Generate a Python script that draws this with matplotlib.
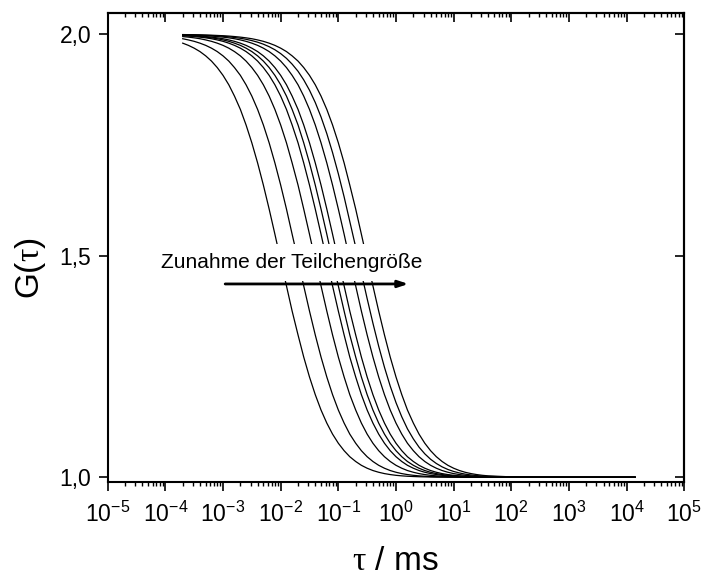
import numpy as np
import matplotlib
matplotlib.use("Agg")
import matplotlib.pyplot as plt

plt.rcParams['font.family'] = 'Liberation Sans'
plt.rcParams['mathtext.fontset'] = 'custom'
plt.rcParams['mathtext.rm'] = 'Liberation Serif'
plt.rcParams['mathtext.it'] = 'Liberation Serif:italic'

# lag times (ms)
tau = [2.00e-4, 2.51e-4, 3.16e-4, 3.98e-4, 5.01e-4, 6.31e-4, 7.94e-4,
       1.00e-3, 1.26e-3, 1.58e-3, 2.00e-3, 2.51e-3, 3.16e-3, 3.98e-3, 5.01e-3, 6.31e-3, 7.94e-3,
       1.00e-2, 1.26e-2, 1.58e-2, 2.00e-2, 2.51e-2, 3.16e-2, 3.98e-2, 5.01e-2, 6.31e-2, 7.94e-2,
       0.100, 0.126, 0.158, 0.200, 0.251, 0.316, 0.398, 0.501, 0.631, 0.794,
       1.00, 1.26, 1.58, 2.00, 2.51, 3.16, 3.98, 5.01, 6.31, 7.94,
       10.0, 12.6, 15.8, 20.0, 25.1, 31.6, 39.8,
       100.0, 316.0, 1000.0, 14000.0]

# G(tau) for each curve, smallest particles first
g1 = [1.9800, 1.9750, 1.9687, 1.9610, 1.9513, 1.9395, 1.9249, 1.9073, 1.8860, 1.8605,
      1.8304, 1.7953, 1.7550, 1.7096, 1.6596, 1.6055, 1.5487, 1.4903, 1.4320, 1.3752,
      1.3213, 1.2714, 1.2264, 1.1865, 1.1518, 1.1223, 1.0974, 1.0768, 1.0600, 1.0464,
      1.0356, 1.0270, 1.0204, 1.0152, 1.0113, 1.0083, 1.0061, 1.0044, 1.0032, 1.0023,
      1.0017, 1.0012, 1.0009, 1.0006, 1.0004, 1.0003, 1.0002, 1.0002, 1.0001, 1.0001,
      1.0001, 1.0000, 1.0000, 1.0000, 1.0000, 1.0000, 1.0000, 1.0000]
g2 = [1.9900, 1.9873, 1.9841, 1.9800, 1.9750, 1.9687, 1.9610, 1.9513, 1.9395, 1.9249,
      1.9073, 1.8860, 1.8605, 1.8304, 1.7953, 1.7550, 1.7096, 1.6596, 1.6055, 1.5487,
      1.4903, 1.4320, 1.3752, 1.3213, 1.2714, 1.2264, 1.1865, 1.1518, 1.1223, 1.0974,
      1.0768, 1.0600, 1.0464, 1.0356, 1.0270, 1.0204, 1.0152, 1.0113, 1.0083, 1.0061,
      1.0044, 1.0032, 1.0023, 1.0017, 1.0012, 1.0009, 1.0006, 1.0004, 1.0003, 1.0002,
      1.0002, 1.0001, 1.0001, 1.0001, 1.0000, 1.0000, 1.0000, 1.0000]
g3 = [1.9949, 1.9936, 1.9920, 1.9900, 1.9873, 1.9841, 1.9800, 1.9750, 1.9687, 1.9610,
      1.9513, 1.9395, 1.9249, 1.9073, 1.8860, 1.8605, 1.8304, 1.7953, 1.7550, 1.7096,
      1.6596, 1.6055, 1.5487, 1.4903, 1.4320, 1.3752, 1.3213, 1.2714, 1.2264, 1.1865,
      1.1518, 1.1223, 1.0974, 1.0768, 1.0600, 1.0464, 1.0356, 1.0270, 1.0204, 1.0152,
      1.0113, 1.0083, 1.0061, 1.0044, 1.0032, 1.0023, 1.0017, 1.0012, 1.0009, 1.0006,
      1.0004, 1.0003, 1.0002, 1.0002, 1.0000, 1.0000, 1.0000, 1.0000]
g4 = [1.9968, 1.9960, 1.9949, 1.9936, 1.9920, 1.9900, 1.9873, 1.9841, 1.9800, 1.9750,
      1.9687, 1.9610, 1.9513, 1.9395, 1.9249, 1.9073, 1.8860, 1.8605, 1.8304, 1.7953,
      1.7550, 1.7096, 1.6596, 1.6055, 1.5487, 1.4903, 1.4320, 1.3752, 1.3213, 1.2714,
      1.2264, 1.1865, 1.1518, 1.1223, 1.0974, 1.0768, 1.0600, 1.0464, 1.0356, 1.0270,
      1.0204, 1.0152, 1.0113, 1.0083, 1.0061, 1.0044, 1.0032, 1.0023, 1.0017, 1.0012,
      1.0009, 1.0006, 1.0004, 1.0003, 1.0001, 1.0000, 1.0000, 1.0000]
g5 = [1.9974, 1.9968, 1.9960, 1.9949, 1.9936, 1.9920, 1.9900, 1.9873, 1.9841, 1.9800,
      1.9750, 1.9687, 1.9610, 1.9513, 1.9395, 1.9249, 1.9073, 1.8860, 1.8605, 1.8304,
      1.7953, 1.7550, 1.7096, 1.6596, 1.6055, 1.5487, 1.4903, 1.4320, 1.3752, 1.3213,
      1.2714, 1.2264, 1.1865, 1.1518, 1.1223, 1.0974, 1.0768, 1.0600, 1.0464, 1.0356,
      1.0270, 1.0204, 1.0152, 1.0113, 1.0083, 1.0061, 1.0044, 1.0032, 1.0023, 1.0017,
      1.0012, 1.0009, 1.0006, 1.0004, 1.0001, 1.0000, 1.0000, 1.0000]
g6 = [1.9980, 1.9974, 1.9968, 1.9960, 1.9949, 1.9936, 1.9920, 1.9900, 1.9873, 1.9841,
      1.9800, 1.9750, 1.9687, 1.9610, 1.9513, 1.9395, 1.9249, 1.9073, 1.8860, 1.8605,
      1.8304, 1.7953, 1.7550, 1.7096, 1.6596, 1.6055, 1.5487, 1.4903, 1.4320, 1.3752,
      1.3213, 1.2714, 1.2264, 1.1865, 1.1518, 1.1223, 1.0974, 1.0768, 1.0600, 1.0464,
      1.0356, 1.0270, 1.0204, 1.0152, 1.0113, 1.0083, 1.0061, 1.0044, 1.0032, 1.0023,
      1.0017, 1.0012, 1.0009, 1.0006, 1.0002, 1.0000, 1.0000, 1.0000]
g7 = [1.9987, 1.9984, 1.9980, 1.9974, 1.9968, 1.9960, 1.9949, 1.9936, 1.9920, 1.9900,
      1.9873, 1.9841, 1.9800, 1.9750, 1.9687, 1.9610, 1.9513, 1.9395, 1.9249, 1.9073,
      1.8860, 1.8605, 1.8304, 1.7953, 1.7550, 1.7096, 1.6596, 1.6055, 1.5487, 1.4903,
      1.4320, 1.3752, 1.3213, 1.2714, 1.2264, 1.1865, 1.1518, 1.1223, 1.0974, 1.0768,
      1.0600, 1.0464, 1.0356, 1.0270, 1.0204, 1.0152, 1.0113, 1.0083, 1.0061, 1.0044,
      1.0032, 1.0023, 1.0017, 1.0012, 1.0003, 1.0001, 1.0000, 1.0000]
g8 = [1.9991, 1.9989, 1.9986, 1.9982, 1.9977, 1.9971, 1.9964, 1.9955, 1.9943, 1.9928,
      1.9910, 1.9887, 1.9858, 1.9822, 1.9777, 1.9720, 1.9651, 1.9564, 1.9457, 1.9326,
      1.9165, 1.8971, 1.8738, 1.8460, 1.8134, 1.7758, 1.7329, 1.6851, 1.6330, 1.5774,
      1.5196, 1.4610, 1.4033, 1.3478, 1.2958, 1.2483, 1.2058, 1.1685, 1.1364, 1.1093,
      1.0866, 1.0680, 1.0529, 1.0407, 1.0311, 1.0235, 1.0176, 1.0131, 1.0097, 1.0071,
      1.0052, 1.0038, 1.0027, 1.0020, 1.0005, 1.0001, 1.0000, 1.0000]
g9 = [1.9994, 1.9992, 1.9990, 1.9987, 1.9984, 1.9980, 1.9974, 1.9968, 1.9960, 1.9949,
      1.9936, 1.9920, 1.9900, 1.9873, 1.9841, 1.9800, 1.9750, 1.9687, 1.9610, 1.9513,
      1.9395, 1.9249, 1.9073, 1.8860, 1.8605, 1.8304, 1.7953, 1.7550, 1.7096, 1.6596,
      1.6055, 1.5487, 1.4903, 1.4320, 1.3752, 1.3213, 1.2714, 1.2264, 1.1865, 1.1518,
      1.1223, 1.0974, 1.0768, 1.0600, 1.0464, 1.0356, 1.0270, 1.0204, 1.0152, 1.0113,
      1.0083, 1.0061, 1.0044, 1.0032, 1.0009, 1.0002, 1.0000, 1.0000]
curves = [g1, g2, g3, g4, g5, g6, g7, g8, g9]

xticks = [1e-5, 1e-4, 1e-3, 1e-2, 1e-1, 1e0, 1e1, 1e2, 1e3, 1e4, 1e5]
xticklabels = [r'$\mathregular{10^{%d}}$' % e for e in range(-5, 6)]
yticks = [1.0, 1.5, 2.0]
yticklabels = ['1,0', '1,5', '2,0']

fig = plt.figure(figsize=(7.06, 5.77), dpi=100)
ax = fig.add_axes([0.15255, 0.16516, 0.8167, 0.81179])

for g in curves:
    ax.plot(tau, g, color='black', lw=0.9)

ax.set_xscale('log')
ax.set_xlim(1e-5, 1e5)
ax.set_ylim(0.990, 2.0474)
ax.set_xticks(xticks)
ax.set_xticklabels(xticklabels)
ax.set_yticks(yticks)
ax.set_yticklabels(yticklabels)
ax.yaxis.set_minor_locator(plt.NullLocator())
ax.xaxis.set_minor_locator(matplotlib.ticker.LogLocator(base=10, subs=np.arange(2, 10), numticks=20))
ax.xaxis.set_minor_formatter(plt.NullFormatter())
ax.tick_params(which='major', direction='out', length=6.5, width=1.2, labelsize=16.5)
ax.tick_params(which='minor', direction='out', length=3.2, width=1.0)
ax.tick_params(axis='x', which='major', pad=8)
ax.tick_params(axis='y', which='major', pad=5.5)
for s in ax.spines.values():
    s.set_linewidth(1.5)

# mirrored ticks on top and right, pointing inwards
top = ax.secondary_xaxis('top')
top.set_xticks(xticks)
top.xaxis.set_minor_locator(matplotlib.ticker.LogLocator(base=10, subs=np.arange(2, 10), numticks=20))
top.tick_params(which='major', direction='in', length=6.5, width=1.2, labeltop=False)
top.tick_params(which='minor', direction='in', length=3.2, width=1.0)
top.spines['top'].set_linewidth(1.5)
right = ax.secondary_yaxis('right')
right.set_yticks(yticks)
right.yaxis.set_minor_locator(plt.NullLocator())
right.tick_params(which='major', direction='in', length=6.5, width=1.2, labelright=False)
right.spines['right'].set_linewidth(1.5)

ax.text(8.35e-5, 1.4718, 'Zunahme der Teilchengröße', fontsize=15, ha='left', va='baseline',
        bbox=dict(facecolor='white', edgecolor='none', pad=6.5), zorder=5)
ax.annotate('', xy=(1.64, 1.4364), xytext=(1.09e-3, 1.4364),
            arrowprops=dict(arrowstyle='-|>,head_length=0.6,head_width=0.2', lw=2,
                            color='black', mutation_scale=10, shrinkA=0, shrinkB=0),
            zorder=6)

fig.text(395 / 706, 1 - 570 / 577, r'$\mathrm{\tau}$ / ms', fontsize=24, ha='center', va='baseline')
fig.text(31 / 706, 1 - 268 / 577, r'G($\mathrm{\tau}$)', fontsize=24, ha='center', va='center', rotation=90)

fig.savefig('out.png', dpi=100)
